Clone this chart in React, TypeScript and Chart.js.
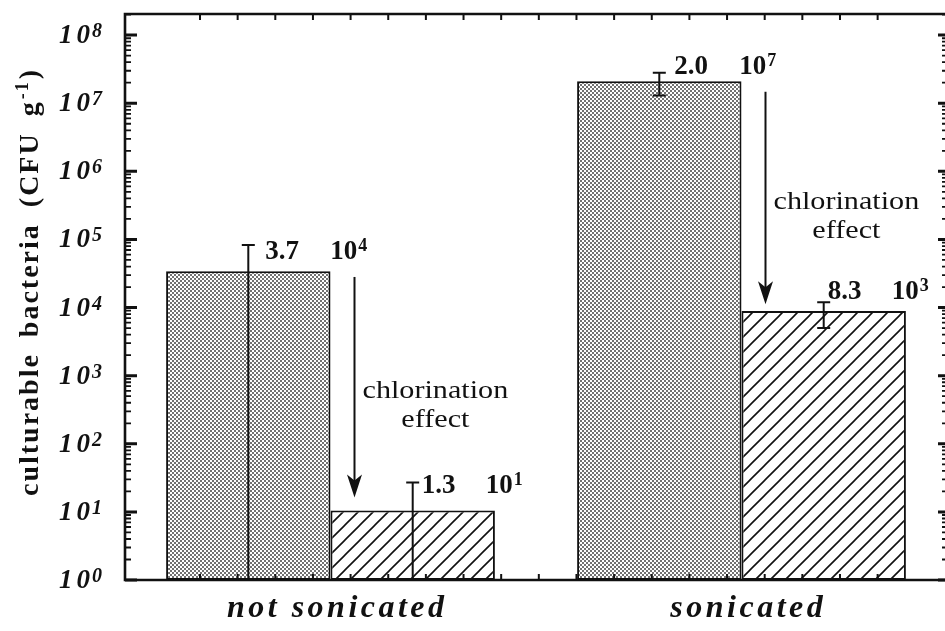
import React, { useEffect, useRef } from 'react';
import { Chart, registerables } from 'chart.js';

Chart.register(...registerables);

// ---- data ----
const categories = ['not sonicated', 'sonicated'];
const beforeValues = [3.4e4, 2.1e7];
const afterValues = [1.05e1, 8.9e3];
const beforeErrHigh = [8.3e4, 2.8e7];
const beforeErrLow = [0, 1.3e7];
const afterErrHigh = [2.7e1, 1.2e4];
const afterErrLow = [0, 5.0e3];
const beforeMantissa = ['3.7', '2.0'];
const beforeExponent = ['4', '7'];
const afterMantissa = ['1.3', '8.3'];
const afterExponent = ['1', '3'];
const yTickExponents = [0, 1, 2, 3, 4, 5, 6, 7, 8];
const yTitleMain = 'culturable bacteria (CFU g';
const yTitleSup = '-1';
const yTitleEnd = ')';
const arrowTextLines = ['chlorination', 'effect'];

// ---- annotation layout (pixel offsets, not data) ----
const beforeLabelDx = [17, 15];
const beforeLabelDy = [14, 1];
const afterLabelDx = [9, 4];
const afterLabelDy = [10, -3];

const SERIF = '"Liberation Serif", "Times New Roman", serif';

function makeStipple(): CanvasPattern | string {
  const c = document.createElement('canvas');
  c.width = 4;
  c.height = 4;
  const g = c.getContext('2d');
  if (!g) return '#aaa';
  g.fillStyle = '#ffffff';
  g.fillRect(0, 0, 4, 4);
  g.fillStyle = '#727272';
  g.fillRect(0, 0, 2, 2);
  g.fillRect(2, 2, 2, 2);
  const p = g.createPattern(c, 'repeat');
  return p || '#aaa';
}

function makeHatch(): CanvasPattern | string {
  const s = 15;
  const c = document.createElement('canvas');
  c.width = s;
  c.height = s;
  const g = c.getContext('2d');
  if (!g) return '#fff';
  g.fillStyle = '#ffffff';
  g.fillRect(0, 0, s, s);
  g.strokeStyle = '#111';
  g.lineWidth = 1.6;
  g.beginPath();
  g.moveTo(-2, s + 2);
  g.lineTo(s + 2, -2);
  g.moveTo(-2, 2);
  g.lineTo(2, -2);
  g.moveTo(s - 2, s + 2);
  g.lineTo(s + 2, s - 2);
  g.stroke();
  const p = g.createPattern(c, 'repeat');
  return p || '#fff';
}

function drawPow(ctx: CanvasRenderingContext2D, x: number, base: number, mainFont: string, supFont: string, exp: string, raise: number) {
  ctx.font = mainFont;
  ctx.fillText('10', x, base);
  const w = ctx.measureText('10').width;
  ctx.font = supFont;
  ctx.fillText(exp, x + w + 1, base - raise);
}

const decorPlugin = {
  id: 'decor',
  afterDatasetsDraw(chart: any) {
    const ctx: CanvasRenderingContext2D = chart.ctx;
    const { left, right, top, bottom } = chart.chartArea;
    const y = chart.scales.y;
    const xc = chart.scales.x;
    const xm = chart.scales.xMinor;
    ctx.save();
    ctx.strokeStyle = '#111';
    ctx.fillStyle = '#111';
    ctx.lineCap = 'butt';

    // error bars
    const errSets = [
      { ds: 0, hi: beforeErrHigh, lo: beforeErrLow },
      { ds: 1, hi: afterErrHigh, lo: afterErrLow },
    ];
    errSets.forEach(({ ds, hi, lo }) => {
      const meta = chart.getDatasetMeta(ds);
      meta.data.forEach((bar: any, i: number) => {
        const x = bar.x;
        const yt = y.getPixelForValue(hi[i]);
        const yb = lo[i] > 1 ? y.getPixelForValue(lo[i]) : bottom;
        ctx.lineWidth = 2;
        ctx.beginPath();
        ctx.moveTo(x, yt);
        ctx.lineTo(x, yb);
        ctx.moveTo(x - 6.5, yt);
        ctx.lineTo(x + 6.5, yt);
        if (lo[i] > 1) {
          ctx.moveTo(x - 6.5, yb);
          ctx.lineTo(x + 6.5, yb);
        }
        ctx.stroke();
      });
    });

    // frame
    ctx.lineWidth = 2.6;
    ctx.beginPath();
    ctx.moveTo(left, top);
    ctx.lineTo(right, top);
    ctx.lineTo(right, bottom);
    ctx.lineTo(left, bottom);
    ctx.closePath();
    ctx.stroke();

    // x minor ticks (top and bottom, inward)
    ctx.lineWidth = 2;
    ctx.beginPath();
    for (let k = Math.ceil(xm.min) + 1; k < xm.max; k++) {
      const px = xm.getPixelForValue(k);
      ctx.moveTo(px, top);
      ctx.lineTo(px, top + 6);
      ctx.moveTo(px, bottom);
      ctx.lineTo(px, bottom - 6);
    }
    ctx.stroke();

    // y ticks (log, inward on both sides)
    yTickExponents.forEach((e) => {
      const v = Math.pow(10, e);
      const py = y.getPixelForValue(v);
      ctx.lineWidth = 3;
      ctx.beginPath();
      ctx.moveTo(left, py);
      ctx.lineTo(left + 12, py);
      ctx.moveTo(right, py);
      ctx.lineTo(right - 9, py);
      ctx.stroke();
      ctx.lineWidth = 1.8;
      ctx.beginPath();
      for (let m = 2; m <= 9; m++) {
        const mv = m * v;
        if (mv >= y.max) break;
        const pm = y.getPixelForValue(mv);
        ctx.moveTo(left, pm);
        ctx.lineTo(left + 6, pm);
        ctx.moveTo(right, pm);
        ctx.lineTo(right - 5, pm);
      }
      ctx.stroke();
    });

    // y tick labels
    ctx.textAlign = 'left';
    ctx.textBaseline = 'alphabetic';
    yTickExponents.forEach((e) => {
      const py = y.getPixelForValue(Math.pow(10, e));
      const base = py + 8;
      ctx.font = `italic bold 27px ${SERIF}`;
      const x0 = 59;
      ctx.fillText('1', x0, base);
      const w1 = ctx.measureText('1').width;
      ctx.fillText('0', x0 + w1 + 4, base);
      const w0 = ctx.measureText('0').width;
      ctx.font = `italic bold 20px ${SERIF}`;
      ctx.fillText(String(e), x0 + w1 + 4 + w0 + 2, base - 6);
    });

    // y title (rotated)
    ctx.save();
    ctx.translate(38, 282);
    ctx.rotate(-Math.PI / 2);
    const mainFont = `bold 28px ${SERIF}`;
    const supFont = `bold 18px ${SERIF}`;
    (ctx as any).letterSpacing = '2px';
    (ctx as any).wordSpacing = '7px';
    ctx.font = mainFont;
    const wMain = ctx.measureText(yTitleMain).width;
    const wEnd = ctx.measureText(yTitleEnd).width;
    ctx.font = supFont;
    const wSup = ctx.measureText(yTitleSup).width;
    const total = wMain + wSup + wEnd + 2;
    let tx = -total / 2;
    ctx.font = mainFont;
    ctx.fillText(yTitleMain, tx, 0);
    tx += wMain + 1;
    ctx.font = supFont;
    ctx.fillText(yTitleSup, tx, -10);
    tx += wSup + 1;
    ctx.font = mainFont;
    ctx.fillText(yTitleEnd, tx, 0);
    (ctx as any).letterSpacing = '0px';
    (ctx as any).wordSpacing = '0px';
    ctx.restore();

    // x category labels
    ctx.font = `italic bold 32px ${SERIF}`;
    (ctx as any).letterSpacing = '3.5px';
    categories.forEach((label, i) => {
      const cx = xc.getPixelForValue(i);
      const w = ctx.measureText(label).width - 3.5;
      ctx.fillText(label, cx - w / 2 + 5, 617);
    });
    (ctx as any).letterSpacing = '0px';

    // value labels + arrows
    const metaB = chart.getDatasetMeta(0);
    const metaA = chart.getDatasetMeta(1);
    const valFont = `bold 27px ${SERIF}`;
    const expFont = `bold 18px ${SERIF}`;
    categories.forEach((_, i) => {
      const barB = metaB.data[i];
      const barA = metaA.data[i];
      const bBase = y.getPixelForValue(beforeErrHigh[i]) + beforeLabelDy[i];
      const bx = barB.x + beforeLabelDx[i];
      ctx.font = valFont;
      ctx.fillText(beforeMantissa[i], bx, bBase);
      drawPow(ctx, bx + 65, bBase, valFont, expFont, beforeExponent[i], 8);

      const aBase = y.getPixelForValue(afterErrHigh[i]) + afterLabelDy[i];
      const ax = barA.x + afterLabelDx[i];
      ctx.font = valFont;
      ctx.fillText(afterMantissa[i], ax, aBase);
      drawPow(ctx, ax + 64, aBase, valFont, expFont, afterExponent[i], 8);

      // arrow
      const arrX = barB.x + barB.width / 2 + 24;
      const y0 = bBase + 18;
      const tip = aBase + 5;
      ctx.lineWidth = 2;
      ctx.beginPath();
      ctx.moveTo(arrX, y0);
      ctx.lineTo(arrX, tip - 15);
      ctx.stroke();
      ctx.beginPath();
      ctx.moveTo(arrX, tip);
      ctx.lineTo(arrX - 7.5, tip - 23);
      ctx.lineTo(arrX, tip - 17);
      ctx.lineTo(arrX + 7.5, tip - 23);
      ctx.closePath();
      ctx.fill();

      // arrow text
      const len = tip - y0;
      const cy = y0 + 0.52 * len;
      ctx.font = `26px ${SERIF}`;
      ctx.textBaseline = 'middle';
      const sx = 1.16;
      const w0 = ctx.measureText(arrowTextLines[0]).width * sx;
      const centerX = arrX + 8 + w0 / 2;
      arrowTextLines.forEach((line, li) => {
        const w = ctx.measureText(line).width * sx;
        ctx.save();
        ctx.translate(centerX - w / 2, cy + li * 29);
        ctx.scale(sx, 1);
        ctx.fillText(line, 0, 0);
        ctx.restore();
      });
      ctx.textBaseline = 'alphabetic';
    });

    ctx.restore();
  },
};

export default function App() {
  const canvasRef = useRef<HTMLCanvasElement | null>(null);

  useEffect(() => {
    const canvas = canvasRef.current;
    if (!canvas) return;
    const stipple = makeStipple();
    const hatch = makeHatch();
    const chart = new Chart(canvas, {
      type: 'bar',
      data: {
        labels: categories,
        datasets: [
          {
            label: 'before chlorination',
            data: beforeValues,
            backgroundColor: stipple as any,
            borderColor: '#111',
            borderWidth: 2,
            borderSkipped: false,
            categoryPercentage: 0.8,
            barPercentage: 1,
            xAxisID: 'x',
            yAxisID: 'y',
          },
          {
            label: 'after chlorination',
            data: afterValues,
            backgroundColor: hatch as any,
            borderColor: '#111',
            borderWidth: 2,
            borderSkipped: false,
            categoryPercentage: 0.8,
            barPercentage: 1,
            xAxisID: 'x',
            yAxisID: 'y',
          },
        ],
      },
      options: {
        responsive: false,
        animation: false,
        devicePixelRatio: 1,
        layout: { padding: { left: 125, top: 14, right: 0, bottom: 51 } },
        plugins: { legend: { display: false }, tooltip: { enabled: false } },
        scales: {
          x: { type: 'category', display: false, offset: true },
          xMinor: { type: 'linear', axis: 'x', display: false, min: 0, max: 19.85 },
          y: { type: 'logarithmic', display: false, min: 1, max: Math.pow(10, 8.31) },
        },
      } as any,
      plugins: [decorPlugin],
    });
    return () => chart.destroy();
  }, []);

  return (
    <div style={{ position: 'absolute', left: 0, top: 0, width: 945, height: 631, overflow: 'hidden', background: '#fff' }}>
      <canvas ref={canvasRef} width={947} height={631} style={{ display: 'block', width: 947, height: 631 }} />
    </div>
  );
}
